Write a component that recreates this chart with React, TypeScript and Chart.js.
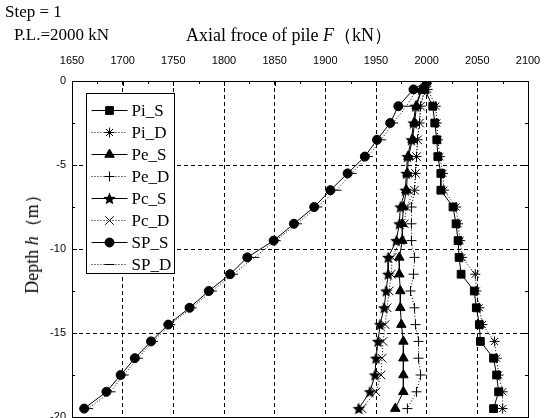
import React, { useEffect, useRef } from "react";
import { Chart, registerables } from "chart.js";
import { drawPoint } from "chart.js/helpers";

Chart.register(...registerables);

// ---- data ----
const depths = [0, -0.5, -1.5, -2.5, -3.5, -4.5, -5.5, -6.5, -7.5, -8.5, -9.5, -10.5, -11.5, -12.5, -13.5, -14.5, -15.5, -16.5, -17.5, -18.5, -19.5];

const piS = [2000, 1998, 2006, 2008, 2010, 2011, 2014, 2014, 2026, 2029, 2031, 2032, 2034, 2047, 2049, 2052, 2053, 2066, 2069, 2071, 2066];
const piD = [2000, 2001, 2009, 2010, 2011, 2013, 2016, 2017, 2029, 2031, 2033, 2035, 2048, 2049, 2052, 2055, 2067, 2069, 2071, 2075, 2075];
const peS = [2000, 1995, 1990, 1988, 1986, 1982, 1981, 1980, 1977, 1976, 1976, 1973, 1973, 1974, 1974, 1975, 1977, 1977, 1977, 1977, 1969];
const peD = [2000, 1998, 1994, 1993, 1991, 1990, 1989, 1988, 1985, 1985, 1985, 1988, 1987, 1984, 1988, 1989, 1992, 1992, 1994, 1990, 1981];
const pcS = [2000, 1995, 1989, 1987, 1985, 1981, 1980, 1979, 1974, 1973, 1970, 1962, 1962, 1960, 1958, 1954, 1952, 1950, 1949, 1944, 1933];
const pcD = [2000, 1998, 1994, 1993, 1991, 1990, 1989, 1988, 1980, 1978, 1974, 1966, 1965, 1963, 1961, 1959, 1957, 1956, 1955, 1950, 1936];
const spS = [2000, 1987, 1972, 1964, 1951, 1939, 1922, 1905, 1889, 1869, 1849, 1823, 1806, 1785, 1766, 1745, 1728, 1712, 1698, 1684, 1662];
const spD = [2000, 1990, 1980, 1967, 1955, 1942, 1926, 1911, 1892, 1872, 1851, 1830, 1809, 1788, 1768, 1747, 1730, 1715, 1701, 1688, 1666];

const seriesLabels = ["Pi_S", "Pi_D", "Pe_S", "Pe_D", "Pc_S", "Pc_D", "SP_S", "SP_D"];
const seriesValues = [piS, piD, peS, peD, pcS, pcD, spS, spD];

const xMin = 1650;
const xMax = 2100;
const xStep = 50;
const yMin = -20;
const yMax = 0;
const yStep = 5;

const stepText = "Step = 1";
const loadText = "P.L.=2000 kN";

function makeFilledStar(size: number): HTMLCanvasElement {
  const c = document.createElement("canvas");
  c.width = size;
  c.height = size;
  const g = c.getContext("2d")!;
  const cx = size / 2;
  const cy = size / 2 + 0.6;
  const ro = size / 2;
  const ri = ro * 0.45;
  g.beginPath();
  for (let i = 0; i < 10; i++) {
    const r = i % 2 === 0 ? ro : ri;
    const a = -Math.PI / 2 + (i * Math.PI) / 5;
    const px = cx + r * Math.cos(a);
    const py = cy + r * Math.sin(a);
    if (i === 0) g.moveTo(px, py);
    else g.lineTo(px, py);
  }
  g.closePath();
  g.fillStyle = "#000";
  g.fill();
  return c;
}

export default function App() {
  const ref = useRef<HTMLCanvasElement>(null);

  useEffect(() => {
    if (!ref.current) return;
    const starImg = makeFilledStar(13);
    const styles: any[] = [
      { pointStyle: "rect", radius: 5.5, solid: true },
      { pointStyle: "star", radius: 5, solid: false },
      { pointStyle: "triangle", radius: 5.5, solid: true },
      { pointStyle: "cross", radius: 5, solid: false },
      { pointStyle: starImg, radius: 5, solid: true },
      { pointStyle: "crossRot", radius: 6, solid: false },
      { pointStyle: "circle", radius: 4.5, solid: true },
      { pointStyle: "line", radius: 5, solid: false },
    ];

    const datasets = seriesLabels.map((label, i) => ({
      label,
      data: depths.map((d, j) => ({ x: seriesValues[i][j], y: d })),
      showLine: true,
      borderColor: "#000",
      borderWidth: 1,
      borderDash: styles[i].solid ? [] : [1, 2],
      pointStyle: styles[i].pointStyle,
      pointRadius: styles[i].radius,
      pointBackgroundColor: "#000",
      pointBorderColor: "#000",
      pointBorderWidth: 1,
      tension: 0,
      fill: false,
    }));

    const framePlugin = {
      id: "frameAndLegend",
      afterDatasetsDraw(chart: any) {
        const { ctx, chartArea, scales } = chart;
        const { left, right, top, bottom } = chartArea;
        const xs = scales.x;
        const ys = scales.y;
        ctx.save();
        ctx.setLineDash([]);
        ctx.strokeStyle = "#000";
        ctx.lineWidth = 1;
        ctx.strokeRect(left + 0.5, top + 0.5, right - left, bottom - top);
        // inward ticks
        ctx.beginPath();
        for (let v = xMin; v <= xMax; v += xStep / 2) {
          const px = Math.round(xs.getPixelForValue(v)) + 0.5;
          const len = (v - xMin) % xStep === 0 ? 5 : 3;
          ctx.moveTo(px, top);
          ctx.lineTo(px, top + len);
        }
        for (let v = yMin; v <= yMax; v += yStep / 2) {
          const py = Math.round(ys.getPixelForValue(v)) + 0.5;
          const len = (v - yMin) % yStep === 0 ? 5 : 3;
          ctx.moveTo(left, py);
          ctx.lineTo(left + len, py);
          ctx.moveTo(right, py);
          ctx.lineTo(right - len, py);
        }
        ctx.stroke();

        // legend
        const bx = left + 14.5;
        const by = top + 12.5;
        const bw = 88;
        const bh = 180;
        ctx.fillStyle = "#fff";
        ctx.fillRect(bx, by, bw, bh);
        ctx.strokeRect(bx, by, bw, bh);
        ctx.font = '17px "Liberation Serif", "Times New Roman", serif';
        ctx.textBaseline = "middle";
        ctx.textAlign = "left";
        chart.data.datasets.forEach((ds: any, i: number) => {
          const ry = Math.round(by + 16 + i * 22) + 0.5;
          ctx.strokeStyle = "#000";
          ctx.fillStyle = "#000";
          ctx.lineWidth = 1;
          ctx.setLineDash(styles[i].solid ? [] : [1, 2]);
          ctx.beginPath();
          ctx.moveTo(bx + 5, ry);
          ctx.lineTo(bx + 41, ry);
          ctx.stroke();
          ctx.setLineDash([]);
          drawPoint(ctx, { pointStyle: styles[i].pointStyle, radius: styles[i].radius, rotation: 0, borderWidth: 1 } as any, bx + 23, ry);
          ctx.fillStyle = "#000";
          ctx.fillText(ds.label, bx + 45, ry + 1);
        });
        ctx.restore();
      },
    };

    const tickFont = { family: '"Liberation Sans", Arial, sans-serif', size: 11 };

    const chart = new Chart(ref.current, {
      type: "scatter",
      data: { datasets: datasets as any },
      options: {
        responsive: false,
        animation: false,
        events: [],
        layout: { padding: { left: 0, top: 0, right: 20, bottom: 23 } },
        plugins: { legend: { display: false }, tooltip: { enabled: false }, title: { display: false } },
        scales: {
          x: {
            type: "linear",
            position: "top",
            min: xMin,
            max: xMax,
            afterFit: (s: any) => {
              s.height = 81;
              s.paddingLeft = 0;
              s.paddingRight = 0;
            },
            ticks: { stepSize: xStep, color: "#000", font: tickFont, padding: 13, maxRotation: 0, callback: (v: any) => String(v) },
            grid: { color: "#000", lineWidth: 1, drawTicks: false },
            border: { display: false, dash: [4, 3] },
          },
          y: {
            type: "linear",
            position: "left",
            min: yMin,
            max: yMax,
            afterFit: (s: any) => {
              s.width = 72;
              s.paddingTop = 0;
              s.paddingBottom = 0;
            },
            ticks: { stepSize: yStep, color: "#000", font: tickFont, padding: 6, callback: (v: any) => String(v) },
            grid: { color: "#000", lineWidth: 1, drawTicks: false },
            border: { display: false, dash: [4, 3] },
          },
        },
      } as any,
      plugins: [framePlugin],
    });
    return () => chart.destroy();
  }, []);

  const serif = '"Liberation Serif", "Times New Roman", serif';
  return (
    <div style={{ position: "absolute", left: 0, top: 0, width: 548, height: 418, overflow: "hidden", background: "#fff" }}>
      <canvas ref={ref} width={548} height={440} style={{ position: "absolute", left: 0, top: 0, width: 548, height: 440 }} />
      <div style={{ position: "absolute", left: 5, top: 3, font: `17px ${serif}`, whiteSpace: "nowrap", lineHeight: "18px" }}>{stepText}</div>
      <div style={{ position: "absolute", left: 14, top: 26, font: `17px ${serif}`, whiteSpace: "nowrap", lineHeight: "18px" }}>{loadText}</div>
      <div style={{ position: "absolute", left: 186, top: 26, font: `18px ${serif}`, whiteSpace: "nowrap", lineHeight: "18px" }}>
        Axial froce of pile <i>F</i>（kN）
      </div>
      <div
        style={{
          position: "absolute",
          left: 32,
          top: 240,
          font: `18px ${serif}`,
          whiteSpace: "nowrap",
          lineHeight: "18px",
          transform: "translate(-50%, -50%) rotate(-90deg)",
        }}
      >
        Depth <i>h</i>（m）
      </div>
    </div>
  );
}
